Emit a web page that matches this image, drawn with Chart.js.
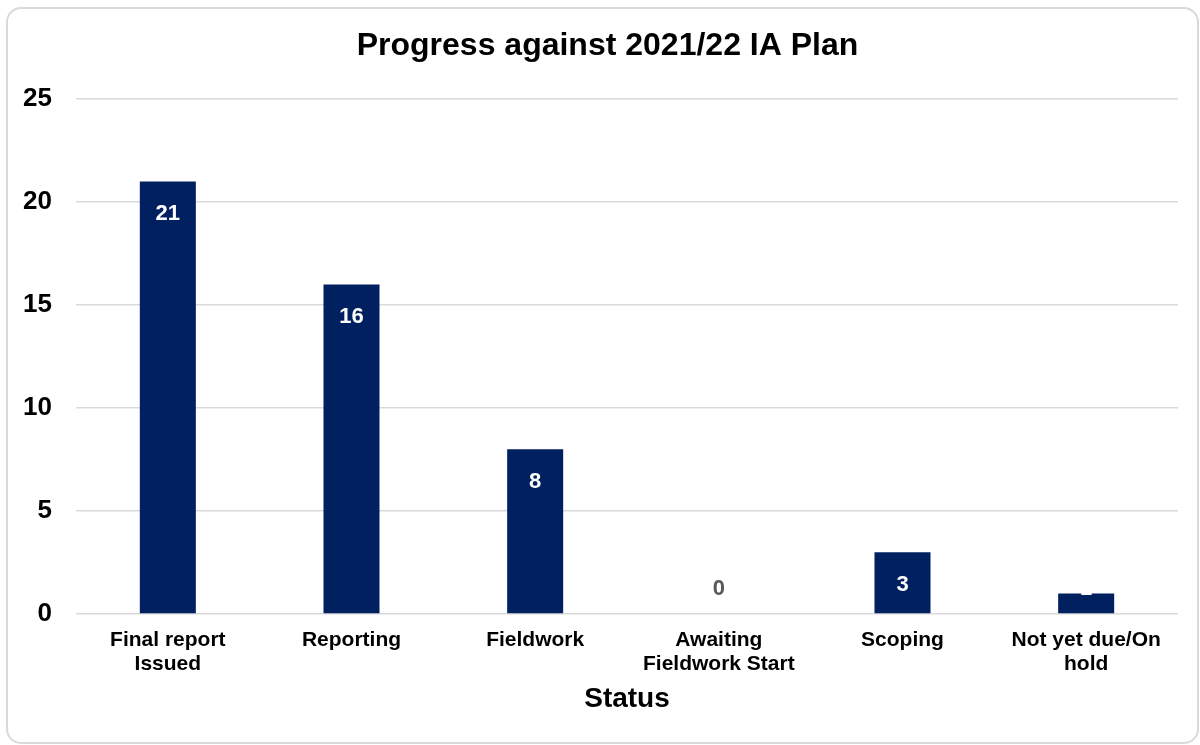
<!DOCTYPE html>
<html>
<head>
<meta charset="utf-8">
<title>Progress against 2021/22 IA Plan</title>
<script src="https://cdn.jsdelivr.net/npm/chart.js@4/dist/chart.umd.min.js"></script>
<style>
  body { margin: 0; background: #fff; }
  #wrap { position: relative; width: 1200px; height: 745px; overflow: hidden; }
  #chart { position: absolute; left: 0; top: 0; }
  #frame {
    position: absolute; left: 6px; top: 7px; width: 1193px; height: 737px;
    box-sizing: border-box; border: 2px solid #d9d9d9; border-radius: 15px;
    pointer-events: none;
  }
</style>
</head>
<body>
<div id="wrap">
  <canvas id="chart" width="1200" height="745"></canvas>
  <div id="frame"></div>
</div>
<script>
// data
var categories = [
  ['Final report', 'Issued'],
  'Reporting',
  'Fieldwork',
  ['Awaiting', 'Fieldwork Start'],
  'Scoping',
  ['Not yet due/On', 'hold']
];
var statusCounts = [21, 16, 8, 0, 3, 1];
var yTicks = [0, 5, 10, 15, 20, 25];

var FONT = "'Liberation Sans', Arial, sans-serif";
var barColor = '#002060';
var gridColor = '#d9d9d9';

// simple value labels, white inside the bar, grey when the bar is empty
var barLabels = {
  id: 'barLabels',
  afterLayout: function (chart) {
    // the title in the original sits a bit right of the canvas centre
    chart.titleBlock.left += 37;
  },
  afterDatasetsDraw: function (chart) {
    var ctx = chart.ctx;
    var meta = chart.getDatasetMeta(0);
    var base = chart.scales.y.getPixelForValue(0);
    ctx.save();
    ctx.font = 'bold 22px ' + FONT;
    ctx.textAlign = 'center';
    ctx.textBaseline = 'middle';
    for (var i = 0; i < meta.data.length; i++) {
      var bar = meta.data[i];
      var v = statusCounts[i];
      var y = Math.min(bar.y + 33, base - 25);
      ctx.fillStyle = v === 0 ? '#595959' : '#ffffff';
      ctx.fillText(String(v), bar.x, y);
    }
    ctx.restore();
  }
};

var ctx = document.getElementById('chart');
new Chart(ctx, {
  type: 'bar',
  data: {
    labels: categories,
    datasets: [{
      label: 'Status',
      data: statusCounts,
      backgroundColor: barColor,
      borderWidth: 0,
      categoryPercentage: 1,
      barPercentage: 0.305
    }]
  },
  options: {
    responsive: false,
    animation: false,
    devicePixelRatio: 1,
    layout: { padding: { left: 0, right: 22, top: 0, bottom: 0 } },
    plugins: {
      legend: { display: false },
      tooltip: { enabled: false },
      title: {
        display: true,
        text: 'Progress against 2021/22 IA Plan',
        color: '#000',
        font: { family: FONT, size: 32, weight: 'bold', lineHeight: 1.2 },
        padding: { top: 27, bottom: 33.6 }
      }
    },
    scales: {
      x: {
        grid: { display: false, drawTicks: false },
        border: { display: false },
        ticks: {
          color: '#000',
          padding: 14,
          maxRotation: 0,
          autoSkip: false,
          font: { family: FONT, size: 21, weight: 'bold', lineHeight: 1.143 }
        },
        title: {
          display: true,
          text: 'Status',
          color: '#000',
          font: { family: FONT, size: 28, weight: 'bold', lineHeight: 1.2 },
          padding: { top: 0, bottom: 29 }
        },
        afterFit: function (scale) { scale.height = 131; }
      },
      y: {
        min: 0,
        max: 25,
        grid: { color: gridColor, lineWidth: 1.5, drawTicks: false },
        border: { display: false },
        ticks: {
          color: '#000',
          padding: 24,
          font: { family: FONT, size: 26, weight: 'bold' }
        },
        afterBuildTicks: function (scale) {
          scale.ticks = yTicks.map(function (v) { return { value: v }; });
        },
        afterFit: function (scale) { scale.width = 76; }
      }
    }
  },
  plugins: [barLabels]
});
</script>
</body>
</html>
